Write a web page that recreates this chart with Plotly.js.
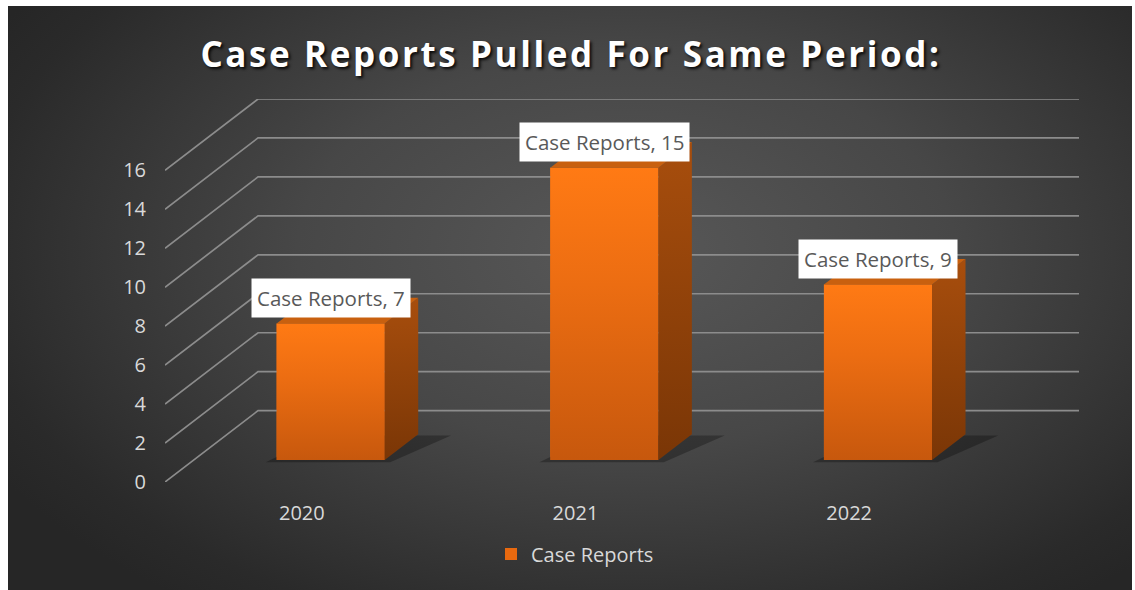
<!DOCTYPE html>
<html><head><meta charset="utf-8">
<script src="https://cdn.plot.ly/plotly-3.0.1.min.js"></script>
<style>
html,body{margin:0;padding:0;background:#fff;overflow:hidden;}
#bg{position:absolute;left:8px;top:6px;width:1124px;height:584px;
 background:radial-gradient(ellipse 65% 75% at 55% 42%, #585858 0%, #474747 45%, #2a2a2a 90%, #262626 100%);}
#chart{position:absolute;left:0;top:0;width:1135px;height:590px;}
#chart .gtitle{letter-spacing:2.6px;}
</style></head><body><div id="bg"></div><div id="chart"></div>
<script>
const years = ['2020', '2021', '2022'];
const caseReports = [7, 15, 9];
const seriesName = 'Case Reports';
const yTicks = [0, 2, 4, 6, 8, 10, 12, 14, 16];
const chartTitle = 'Case Reports Pulled For Same Period:';

// oblique projection parameters (in axis units)
const DX = 0.34, DV = 3.664;      // depth shift of back wall
const DF = 0.31, DB = 0.67;       // bar front / back depth fraction
const W = 0.395;                  // bar width
const xs = years.map((_, i) => i);
const xMin = -0.5, xMax = years.length - 0.5;
const yTop = yTicks[yTicks.length - 1];

const traces = [];

// gridlines: side wall diagonals + back wall horizontals
const gx = [], gy = [];
yTicks.forEach(v => {
  gx.push(xMin, xMin + DX, xMax + DX, null);
  gy.push(v, v + DV, v + DV, null);
});
traces.push({type:'scatter', mode:'lines', x:gx, y:gy, line:{color:'#8c8c8c', width:1.7},
  hoverinfo:'skip', showlegend:false});

// shadows on the floor
xs.forEach((c, i) => {
  const xl = c + DF*DX - W/2, xr = c + DF*DX + W/2;
  const d1 = (DB - DF);
  traces.push({type:'scatter', mode:'lines', fill:'toself', line:{width:0},
    fillcolor:'rgba(0,0,0,0.28)',
    x:[xl-0.04, xr+0.02, xr + d1*DX + 0.12, xl + d1*DX + 0.04],
    y:[DF*DV - 0.12, DF*DV - 0.12, DF*DV + d1*DV*0.95, DF*DV + d1*DV*0.95],
    hoverinfo:'skip', showlegend:false});
});

// front faces as bars (legend entry)
traces.push({type:'bar', name:seriesName, x:xs.map(c => c + DF*DX), y:caseReports,
  base:caseReports.map(() => DF*DV), width:W,
  marker:{color:'#e8690f', line:{width:0}}, showlegend:true, hoverinfo:'y'});

xs.forEach((c, i) => {
  const v = caseReports[i];
  const b = DF*DV;
  const xl = c + DF*DX - W/2, xr = c + DF*DX + W/2;
  const ddx = (DB - DF)*DX, ddv = (DB - DF)*DV;
  // front gradient overlay
  traces.push({type:'scatter', mode:'lines', fill:'toself', line:{width:0, color:'rgba(0,0,0,0)'},
    x:[xl, xr, xr, xl], y:[b, b, b+v, b+v],
    fillgradient:{type:'vertical', colorscale:[[0,'#c7580d'],[0.6,'#ec6d12'],[1,'#ff7a14']]},
    hoverinfo:'skip', showlegend:false});
  // side face
  traces.push({type:'scatter', mode:'lines', fill:'toself', line:{width:0, color:'rgba(0,0,0,0)'},
    x:[xr, xr+ddx, xr+ddx, xr], y:[b, b+ddv, b+v+ddv, b+v],
    fillgradient:{type:'vertical', colorscale:[[0,'#7a3606'],[1,'#a84e0d']]},
    hoverinfo:'skip', showlegend:false});
  // top face
  traces.push({type:'scatter', mode:'lines', fill:'toself', line:{width:0, color:'rgba(0,0,0,0)'},
    fillcolor:'#c8600f',
    x:[xl, xr, xr+ddx, xl+ddx], y:[b+v, b+v, b+v+ddv, b+v+ddv],
    hoverinfo:'skip', showlegend:false});
});

const annotations = xs.map((c, i) => ({
  x: c + DF*DX, y: DF*DV + caseReports[i], xref:'x', yref:'y',
  text: seriesName + ', ' + caseReports[i], showarrow:false, yshift:26,
  bgcolor:'#ffffff', borderpad:5,
  font:{family:'Open Sans, sans-serif', size:20.5, color:'#595959'}
}));

const layout = {
  width:1135, height:590,
  paper_bgcolor:'rgba(0,0,0,0)', plot_bgcolor:'rgba(0,0,0,0)',
  margin:{l:165, r:56, t:99, b:108},
  title:{text:chartTitle, x:571/1135, xref:'container', xanchor:'center',
    y:1-55/590, yref:'container', yanchor:'middle',
    font:{family:'Open Sans, sans-serif', size:35, weight:'bold', color:'#ffffff',
      shadow:'2px 2px 3px rgba(0,0,0,0.85)'}},
  xaxis:{range:[xMin, xMax + DX], tickvals:xs, ticktext:years, showgrid:false,
    zeroline:false, showline:false, ticks:'', ticklabelstandoff:17,
    tickfont:{family:'Open Sans, sans-serif', size:20, color:'#d9d9d9'}, fixedrange:true},
  yaxis:{range:[0, yTop + DV], tickvals:yTicks, showgrid:false, zeroline:false,
    showline:false, ticks:'', ticklabelstandoff:18,
    tickfont:{family:'Open Sans, sans-serif', size:20, color:'#d9d9d9'}, fixedrange:true},
  showlegend:true,
  legend:{orientation:'h', x:575/1135, xref:'container', xanchor:'center',
    y:1-554/590, yref:'container', yanchor:'middle', bgcolor:'rgba(0,0,0,0)',
    font:{family:'Open Sans, sans-serif', size:20, color:'#d9d9d9'}, itemwidth:30},
  annotations:annotations
};

Plotly.newPlot('chart', traces, layout, {displayModeBar:false, staticPlot:true});
</script></body></html>
